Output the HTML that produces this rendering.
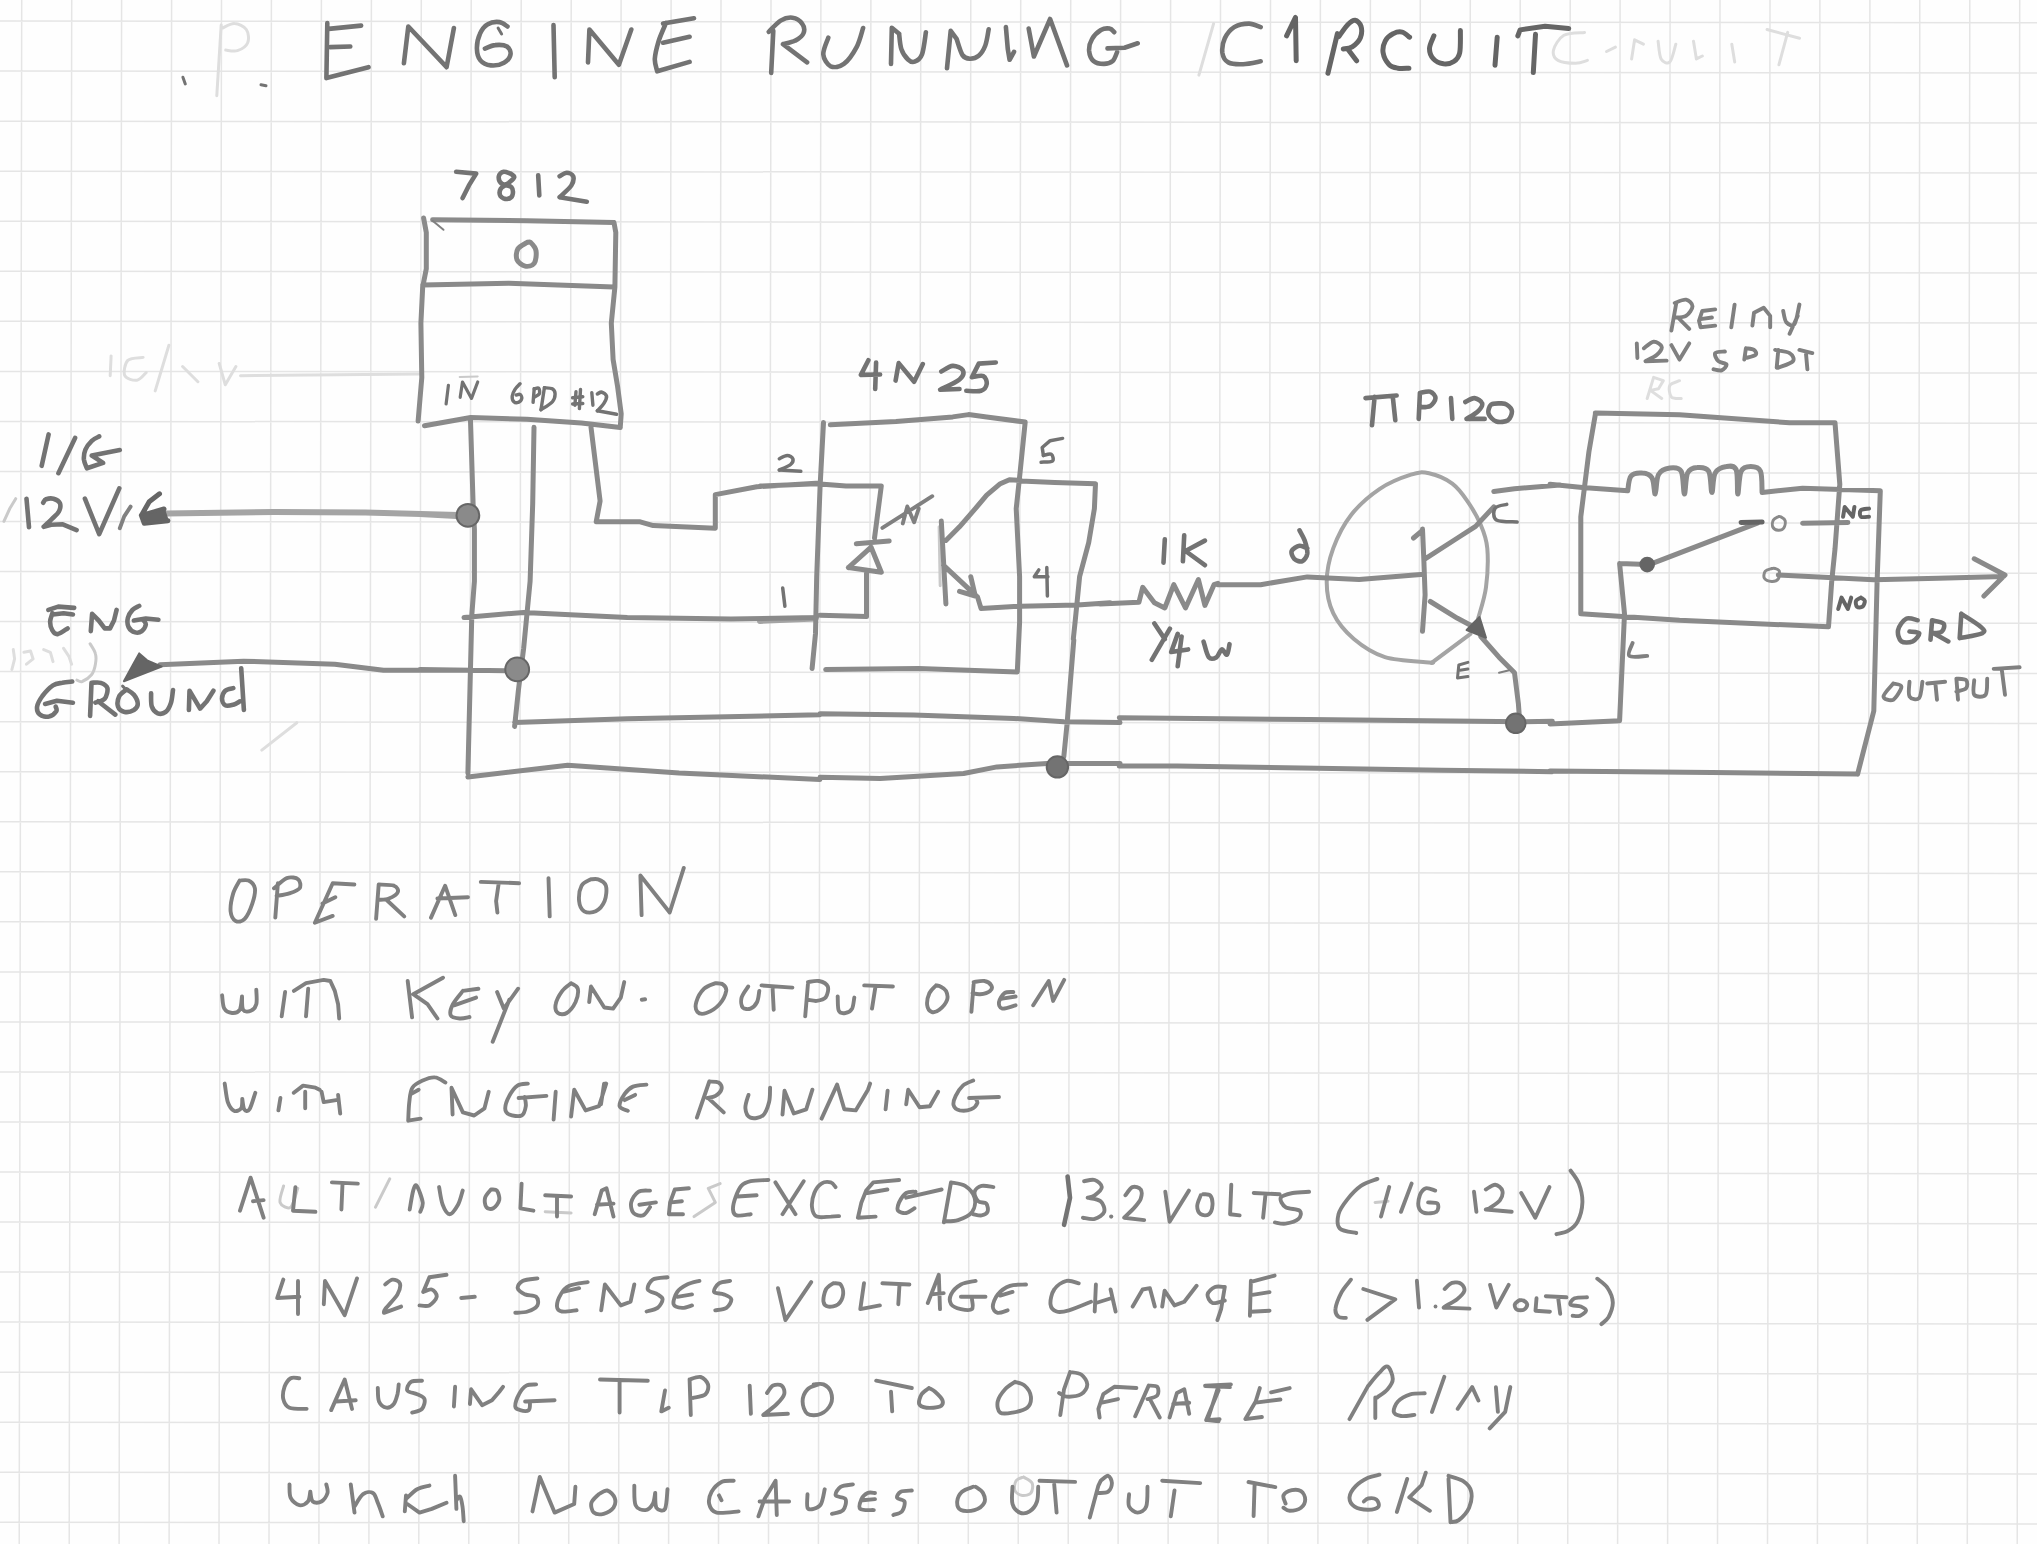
<!DOCTYPE html>
<html><head><meta charset="utf-8"><title>Engine Running Circuit</title>
<style>html,body{margin:0;padding:0;background:#fefefe;overflow:hidden;font-family:"Liberation Sans",sans-serif;}svg{display:block;}</style>
</head><body>
<svg width="2037" height="1544" viewBox="0 0 2037 1544">
<rect width="2037" height="1544" fill="#fefefe"/>
<path d="M21.7 0 L19.2 1544 M71.7 0 L69.2 1544 M121.6 0 L119.1 1544 M171.6 0 L169.1 1544 M221.5 0 L219 1544 M271.4 0 L269 1544 M321.4 0 L318.9 1544 M371.4 0 L368.9 1544 M421.3 0 L418.8 1544 M471.2 0 L468.8 1544 M521.2 0 L518.7 1544 M571.2 0 L568.7 1544 M621.1 0 L618.6 1544 M671.1 0 L668.6 1544 M721 0 L718.5 1544 M771 0 L768.5 1544 M820.9 0 L818.4 1544 M870.9 0 L868.4 1544 M920.8 0 L918.3 1544 M970.8 0 L968.3 1544 M1020.7 0 L1018.2 1544 M1070.7 0 L1068.2 1544 M1120.6 0 L1118.1 1544 M1170.6 0 L1168.1 1544 M1220.5 0 L1218 1544 M1270.5 0 L1268 1544 M1320.4 0 L1317.9 1544 M1370.4 0 L1367.9 1544 M1420.3 0 L1417.8 1544 M1470.3 0 L1467.8 1544 M1520.2 0 L1517.7 1544 M1570.2 0 L1567.7 1544 M1620.1 0 L1617.6 1544 M1670.1 0 L1667.6 1544 M1720 0 L1717.5 1544 M1770 0 L1767.5 1544 M1819.9 0 L1817.4 1544 M1869.9 0 L1867.4 1544 M1919.8 0 L1917.3 1544 M1969.8 0 L1967.3 1544 M2019.7 0 L2017.2 1544 M0 21.1 L2037 22.8 M0 71.1 L2037 72.9 M0 121.2 L2037 122.9 M0 171.2 L2037 173 M0 221.3 L2037 223 M0 271.3 L2037 273 M0 321.3 L2037 323.1 M0 371.4 L2037 373.1 M0 421.4 L2037 423.2 M0 471.5 L2037 473.2 M0 521.5 L2037 523.2 M0 571.5 L2037 573.3 M0 621.6 L2037 623.3 M0 671.6 L2037 673.4 M0 721.7 L2037 723.4 M0 771.7 L2037 773.4 M0 821.7 L2037 823.5 M0 871.8 L2037 873.5 M0 921.8 L2037 923.6 M0 971.9 L2037 973.6 M0 1021.9 L2037 1023.6 M0 1071.9 L2037 1073.7 M0 1122 L2037 1123.7 M0 1172 L2037 1173.8 M0 1222.1 L2037 1223.8 M0 1272.1 L2037 1273.8 M0 1322.1 L2037 1323.9 M0 1372.2 L2037 1373.9 M0 1422.2 L2037 1424 M0 1472.3 L2037 1474 M0 1522.3 L2037 1524" stroke="#e5e5e5" stroke-width="1.5" fill="none"/>
<g stroke="#dedede" stroke-width="3.0" fill="none" stroke-linecap="round" stroke-linejoin="round">
<path d="M221.2 25 L216.8 95.7 M222.7 28 C224.7 27.2 230.6 23.3 234.5 23.6 C238.4 23.8 244.1 26.3 246.3 29.5 C248.5 32.6 249.2 39.2 247.7 42.7 C246.3 46.2 241.1 49.4 237.4 50.7 C233.8 51.9 227.6 50.2 225.7 50.1 M1213.6 23.6 L1198.9 75.1 M13.3 649.6 L14.6 658.9 L11.9 669.5 M23.9 652.3 L30.5 651 L33.1 658.9 L26.5 664.2 M43.7 649.6 L50.4 652.3 L53 661.6 M63.6 648.3 L68.9 656.3 L71.6 664.2 M111.1 355.9 L110.2 375.7 M143.1 357.4 C140.5 357.9 130.9 357.4 127.8 360.4 C124.8 363.5 123.3 372.4 124.8 375.7 C126.3 379 133.4 380.7 137 380.2 C140.5 379.7 144.6 373.9 146.1 372.6 M168.9 345.2 L155.2 390.9 M182.6 366.5 L197.9 381.7 M219.2 363.5 L225.3 384.8 L235.9 366.5 M240.5 375.7 L420.1 374.1 M261.8 750.1 L296.8 722.7 M1647.2 398.5 L1653.6 377.4 L1663.3 380.7 L1658.5 388.8 L1650.4 390.4 L1661.7 398.5 M1679.5 380.7 C1677.9 381.5 1671.2 382.8 1669.8 385.5 C1668.5 388.2 1669.5 394.7 1671.4 396.9 C1673.3 399 1679.5 398.2 1681.2 398.5 M1584.5 32.4 C1581 32.9 1569 32.4 1563.9 35.3 C1558.7 38.3 1554.5 45.9 1553.5 50.1 C1552.6 54.2 1554.3 58.2 1558 60.4 C1561.6 62.6 1570.7 63.3 1575.6 63.3 C1580.5 63.3 1585.5 60.9 1587.4 60.4 M1606.6 51.5 L1615.4 47.1 M1631.6 58.9 L1634.6 39.8 L1643.4 44.2 M1658.1 41.2 C1658.6 44.2 1659.1 55.5 1661.1 58.9 C1663 62.3 1667.4 64.3 1669.9 61.9 C1672.4 59.4 1674.8 47.1 1675.8 44.2 M1693.5 41.2 L1696.4 58.9 L1702.3 56 M1731.8 44.2 L1734.7 61.9 M1767.1 29.5 L1799.5 38.3 M1787.7 32.4 L1778.9 64.8"/>
</g>
<g stroke="#cacaca" stroke-width="3.0" fill="none" stroke-linecap="round" stroke-linejoin="round">
<path d="M15.7 498.7 L9.8 508.5 L3.9 521.3 M90.1 643.7 C91 645.3 94.6 650.2 95.4 653.6 C96.3 657 96.1 660.7 95.4 664.2 C94.8 667.8 93.7 672 91.5 674.8 C89.2 677.7 84.6 680.6 82.2 681.5 C79.7 682.3 77.8 680.4 76.9 680.1 M939.1 526.8 L940.2 585.8 M283.6 1185.9 C283 1188.7 278.9 1198.9 280.1 1202.4 C281.3 1205.9 287.7 1209.5 290.7 1207.1 C293.6 1204.8 296.6 1191.4 297.8 1188.3 M375.5 1207.1 L389.7 1178.9 M545.2 1211.8 L571.1 1213 M694.1 1216.6 L715.3 1202.4 L708.3 1188.3 L720.1 1183.6 M1375.1 1202.4 L1388 1201.2 M1023.5 1477 C1022.3 1477.6 1017.6 1478.4 1016.1 1480.7 C1014.7 1482.9 1013.9 1488 1014.9 1490.5 C1015.9 1493 1019.6 1495 1022.3 1495.4 C1024.9 1495.8 1029.2 1495 1030.9 1493 C1032.5 1490.9 1033.3 1485.8 1032.1 1483.1 C1030.9 1480.5 1024.9 1478 1023.5 1477"/>
<path d="M459.7 376.9 L477.7 376.4" stroke-width="2"/>
</g>
<g stroke="#a4a4a4" stroke-width="6.0" fill="none" stroke-linecap="round" stroke-linejoin="round">
<path d="M165.9 513.6 L274 512 L365.3 512.6 L458.1 515.1 M420 514 L456.3 516.1 M760 620.9 L815.5 618.6"/>
<path d="M1431.6 662.4 C1431.2 662.4 1436.8 663.2 1429 662.4 C1421.2 661.5 1397.5 661.1 1385 657.2 C1372.5 653.3 1362.5 646.4 1353.9 639.1 C1345.3 631.7 1337.7 622.7 1333.2 613.2 C1328.6 603.7 1326.7 592.9 1326.7 582.1 C1326.7 571.3 1329.1 559.6 1333.2 548.4 C1337.3 537.2 1343.5 524.6 1351.3 514.7 C1359.1 504.8 1369.9 495.5 1379.8 488.8 C1389.7 482.1 1402.7 477.2 1410.9 474.6 C1419.1 472 1422.1 471.8 1429 473.3 C1435.9 474.8 1445.9 478.9 1452.3 483.6 C1458.8 488.4 1463.1 494.9 1467.9 501.8 C1472.6 508.7 1477.6 517.3 1480.8 525.1 C1484.1 532.8 1486.4 538 1487.3 548.4 C1488.2 558.8 1487.5 575.6 1486 587.3 C1484.5 598.9 1479.5 613.2 1478.2 618.3" stroke-width="4"/>
<path d="M1431.6 662.9 L1470.5 633.9" stroke-width="4"/>
</g>
<g stroke="#8a8a8a" stroke-width="5.0" fill="none" stroke-linecap="round" stroke-linejoin="round">
<path d="M159.8 664.8 L243.5 661.2 L334.8 664.2 L383.5 670.3 L456.6 670.3 M423.6 218 L426.3 232.5 L426.3 268.8 L422.7 286.9 L420.9 323.2 L421.8 377.6 L418.1 421.1 M432.6 219.8 L526.9 220.8 L614 222.6 M614 222.6 L615.8 232.5 L614.9 286.9 L611.3 323.2 L613.1 359.5 L617.6 386.7 L621.2 413.9 L620.3 426.6 M422.7 285.1 L508.8 283.3 L614 286.9 M424.5 425.7 L470.7 417.5 L526.9 419.3 L581.3 423 L620.3 427.5 M526.9 242.5 C525.4 243.6 519.5 246 517.9 248.9 C516.2 251.7 515.8 256.9 517 259.7 C518.2 262.6 522.3 265.5 525.1 266.1 C528 266.7 532.4 265.9 534.2 263.4 C536 260.8 536.6 254.1 536 250.7 C535.4 247.2 532.1 243.9 530.6 242.5 C529.1 241.2 527.5 242.5 526.9 242.5 M470.5 420.7 L473.1 503.6 L474.4 529.5 L474.4 581.3 L471.8 615 L467.9 773.1 M467.9 776.9 L567.7 765.3 L679.1 773.1 L820 779.5 M464 617.6 L523.6 612.4 L627.3 617.6 L730.9 618.9 L816.4 617.6 M534 427.2 L532.7 503.6 L530.1 581.3 L523.6 648.7 L518.4 690.2 L514.6 726.4 M518.4 690.2 L514.6 726.4 M514.6 722.5 L627.3 718.7 L820 714.8 M420 669.4 L505.5 670.7 M591 427.2 L600.1 501 L596.2 521.8 L640.2 521.8 L653.2 525.6 L715.3 528.2 L715.3 494.6 L756.8 486.8 L820 482.9 M823.5 422.5 L820.1 486 L816.7 576.7 L815.5 633.4 L812.1 668.5 M830.3 424.8 L896 421.4 L952.7 416.9 L968.5 414.6 L986.7 416.9 L1025.2 422.1 M1025.2 422.1 L1019.6 476.9 L1016.2 508.7 L1019.6 576.7 L1019.6 622 L1017.3 671.9 M825.7 669.6 L918.7 668.5 L1017.3 671.9 M760 486 L816.7 483.7 L846.1 486 L881.3 486 L874.5 538.1 M856.3 543.8 L889.2 540.9 M848.4 567.6 L871.1 547.2 L881.3 572.2 L848.4 567.6 M866.5 571 L866.5 616.4 L820.1 615.2 M941.3 521.1 L945.9 603.9 M945.9 540.4 L959.5 526.8 L975.3 508.7 L986.7 495.1 L1000.3 483.7 L1009.4 479.7 L1020.7 480.3 M1020.7 481 L1054.7 482.6 L1095.5 483.7 M943.6 565.3 L977.6 597.1 L981 608.4 M959.5 591.4 L975.3 596 L970.8 576.7 M981 608.4 L1020.7 606.2 L1077.4 605 L1110 602.8 M1095.5 483.7 L1094.4 508.7 L1088.7 542.7 L1079.6 576.7 L1075.1 622 L1073.3 639 M1100 604.1 L1138.9 602.3 L1142.7 587.3 L1154.4 602.8 L1164.8 608 L1173.8 584.7 L1185.5 608 L1198.4 579.5 L1204.9 605.4 L1214 584.7 L1217.9 583.4 M1217.9 584.7 L1260.6 584.7 L1307.3 576.9 L1359.1 579.5 L1423.8 574.3 M1422.5 529 L1423.8 558.8 L1425.1 595 L1422.5 631.3 M1413.5 538 L1422.5 530.3 M1425.1 558.8 L1457.5 538 L1475.6 526.4 L1493.8 506.9 M1493.8 491.4 L1514.5 488.8 L1560.1 484.9 M1430.3 601.5 L1457.5 618.3 L1479.5 630 M1480.8 636.5 L1499 657.2 L1514.5 672.7 L1518.4 703.8 L1519.7 722 M1595.3 413.1 L1679.5 414.7 L1789.6 422.8 L1835 422.8 M1595.3 414.7 L1588.9 451.9 L1580.8 516.7 L1580.8 613.8 M1580.8 613.8 L1679.5 620.3 L1828.5 626.8 M1835 422.8 L1839.8 484.3 L1835 549.1 L1831.7 581.5 L1828.5 626.8 M1550 484.3 L1582.4 487.5 L1627.7 490.8 M1627.7 490.8 C1628.3 488.3 1628.5 479.2 1631 476.2 C1633.4 473.2 1638.8 472.7 1642.3 473 C1645.8 473.2 1649.8 474.3 1652 477.8 C1654.2 481.3 1654.2 494.6 1655.2 494 C1656.3 493.5 1656.1 478.9 1658.5 474.6 C1660.9 470.3 1666 468.6 1669.8 468.1 C1673.6 467.6 1678.7 467 1681.2 471.3 C1683.6 475.7 1683.3 493.7 1684.4 494 C1685.5 494.3 1685.5 477.4 1687.6 473 C1689.8 468.5 1693.8 467.7 1697.3 467.5 C1700.9 467.2 1706.2 467.2 1708.7 471.3 C1711.1 475.5 1710.8 492.1 1711.9 492.4 C1713 492.7 1712.7 477.3 1715.2 473 C1717.6 468.6 1723 467 1726.5 466.5 C1730 465.9 1734.3 465.1 1736.2 469.7 C1738.1 474.3 1737 493.7 1737.8 494 C1738.6 494.3 1738.9 475.9 1741.1 471.3 C1743.2 466.8 1747.5 466.5 1750.8 466.5 C1754 466.5 1758.6 467 1760.5 471.3 C1762.4 475.7 1761.8 488.9 1762.1 492.4 M1762.1 492.4 L1802.6 488.2 L1880.3 490.8 M1880.3 490.8 L1877.1 581.5 L1873.8 711 L1857.6 774.1 M1857.6 774.1 L1711.9 772.5 L1550 770.9 M1802.6 523.2 L1847.9 522.5 M1647.2 565.3 L1757.3 523.2 M1778.3 575 L1873.8 579.8 L1938.6 578.2 L2003.4 576.6 M1974.2 558.8 L2005 575 L1983.9 596 M1619.6 563.6 L1647.2 564.6 M1619.6 563.6 L1624.5 613.8 L1619.6 720.7 M1619.6 720.7 L1550 723.9 M1119.3 717.8 L1309.3 719.5 L1521.4 721.7 L1552.3 721.3 M1119.3 765.9 L1176.7 765.9 L1441.8 770.3 L1552.3 771.7 M820.1 713.8 L913.5 715.1 L1013.7 718.4 L1063.8 721.8 L1120 722.6 M820.1 777.2 L880.1 778.5 L963.6 773.5 L997 766.9 L1047.1 763.5 L1120 763.5 M1073.8 640 L1070.4 681.7 L1067.1 723.5 L1063.8 756.8"/>
<path d="M1778.3 516.7 C1777.5 517.2 1774.4 518.2 1773.4 519.9 C1772.5 521.6 1772 525.3 1772.8 527 C1773.6 528.8 1776.5 530.1 1778.3 530.3 C1780.1 530.4 1782.7 529.6 1783.8 528 C1784.9 526.4 1785.6 522.5 1785.1 520.6 C1784.6 518.7 1781.7 517.3 1780.6 516.7 C1779.4 516 1778.7 516.7 1778.3 516.7" stroke-width="3"/>
<path d="M1771.8 568.5 C1770.7 568.9 1766.6 569.5 1765.3 571.1 C1764.1 572.7 1763.3 576.5 1764.4 578.2 C1765.5 579.9 1769.5 581.3 1771.8 581.5 C1774.1 581.6 1777.1 580.6 1778.3 578.9 C1779.5 577.1 1779.8 572.8 1779.3 571.1 C1778.7 569.4 1776.3 568.9 1775.1 568.5 C1773.8 568.1 1772.4 568.5 1771.8 568.5" stroke-width="3"/>
</g>
<g stroke="#808080" stroke-width="3.9" fill="none" stroke-linecap="round" stroke-linejoin="round">
<path d="M130.6 506.6 L124.2 516.4 L119.8 528.2 M882.4 527.9 L932.3 496.2 M902.8 523.4 L907.3 506.4 L914.1 522.3 L918.7 508.7 M1671.4 330.5 L1676.3 303 M1674.7 303 C1676.6 302.4 1683 299.2 1686 299.7 C1689 300.3 1692.5 303.5 1692.5 306.2 C1692.5 308.9 1689 314 1686 315.9 C1683 317.8 1676.6 317.3 1674.7 317.5 M1677.9 317.5 L1689.2 328.9 M1715.2 309.4 L1702.2 311 L1699 320.8 L1700.6 327.2 L1715.2 325.6 M1700.6 319.1 L1711.9 317.5 M1734.6 304.6 L1731.3 327.2 M1752.4 325.6 L1754 312.7 L1763.7 307.8 L1770.2 315.9 L1770.2 327.2 M1783.2 311 C1783.7 312.9 1784.5 320.2 1786.4 322.4 C1788.3 324.5 1792.3 327 1794.5 324 C1796.7 321 1798.5 307.8 1799.4 304.6 M1797.7 315.9 L1789.6 333.7 M1636.8 343.4 L1637.4 358 M1643.9 348.3 C1645.5 347.2 1650.7 342.1 1653.6 341.8 C1656.6 341.5 1661.2 344.5 1661.7 346.7 C1662.3 348.8 1659.6 352.3 1656.9 354.8 C1654.2 357.2 1647.4 360.2 1645.5 361.2 M1645.5 361.2 L1666.6 360.6 M1671.4 345.1 L1679.5 359.6 L1689.2 343.4 M1724.9 351.5 C1723.3 351.8 1716.2 351.5 1715.2 353.1 C1714.1 354.8 1716.5 359.4 1718.4 361.2 C1720.3 363.1 1725.9 363 1726.5 364.5 C1727 366 1723.8 369.5 1721.6 370.3 C1719.5 371.1 1714.9 369.5 1713.5 369.3 M1744.3 359.6 L1745.9 348.3 M1745.9 348.3 C1747.3 348.6 1752.4 348.8 1754 349.9 C1755.6 351 1757 353.4 1755.6 354.8 C1754.3 356.1 1747.5 357.5 1745.9 358 M1776.7 367.7 L1778.3 349.9 M1775.1 349.9 C1777.5 350.4 1786.7 351.3 1789.6 353.1 C1792.6 355 1794.8 358.8 1792.9 361.2 C1791 363.7 1780.7 366.6 1778.3 367.7 M1799.4 349.9 L1812.3 353.1 M1805.8 351.5 L1807.4 369.3 M1632.6 643 C1632 645.1 1626.9 653.8 1629.3 655.9 C1631.8 658.1 1644.2 655.9 1647.2 655.9 M1893.3 683.5 C1891.6 685.6 1883.5 693.7 1883.5 696.4 C1883.5 699.1 1890.3 701.3 1893.3 699.7 C1896.2 698 1901.4 689.4 1901.4 686.7 C1901.4 684 1894.6 684 1893.3 683.5 M1909.5 681.8 C1909.5 684.3 1907.8 693.7 1909.5 696.4 C1911.1 699.1 1917 700.5 1919.2 698 C1921.3 695.6 1921.9 684.5 1922.4 681.8 M1927.3 683.5 L1945.1 681.8 M1935.4 683.5 L1937 699.7 M1958 699.7 L1956.4 678.6 M1956.4 678.6 C1958 678.9 1964.5 678.6 1966.1 680.2 C1967.7 681.8 1967.7 686.4 1966.1 688.3 C1964.5 690.2 1958 691 1956.4 691.6 M1974.2 680.2 C1974.2 682.6 1972.3 692.4 1974.2 694.8 C1976.1 697.2 1983.4 697.5 1985.6 694.8 C1987.7 692.1 1986.9 681.3 1987.2 678.6 M1993.7 668.9 L2019.6 667.3 M2001.7 668.9 L2005 694.8 M239.6 880.6 C238.5 882.8 234.7 888.3 233.2 893.4 C231.7 898.5 230.2 906.7 230.6 911.3 C231.1 915.9 233.4 919.7 235.7 921 C238.1 922.2 241.9 921.8 244.7 918.9 C247.4 916 250.6 908.7 252.3 903.6 C254 898.5 255.5 892.1 254.9 888.3 C254.2 884.5 251.1 881.9 248.5 880.6 C245.9 879.4 241.1 880.6 239.6 880.6 M275.3 917.6 L277.9 883.2 M274 888.3 C276.2 886.6 282.8 879.6 286.8 878.1 C290.8 876.6 296.2 877.7 298.3 879.4 C300.4 881.1 301 886 299.6 888.3 C298.1 890.6 293.2 892.1 289.3 893.4 C285.5 894.7 278.7 895.5 276.6 895.9 M354.4 884.5 L332.7 883.2 L314.9 922.8 L332.7 915.9 M322.5 903.6 L335.3 897.2 M376.1 918.9 L378.7 884.5 M378.7 884.5 C381.2 884.7 390.8 884.5 394 885.7 C397.2 887 398.7 890 397.8 892.1 C397 894.2 392.1 897.2 388.9 898.5 C385.7 899.8 380.4 899.6 378.7 899.8 M386.4 899.8 L404.2 916.4 M431 917.6 L445.1 885.7 L455.3 915.1 M437.4 898.5 L468 897.2 M480.8 881.9 L519.1 883.2 M498.7 883.2 L496.1 901.1 L497.4 912.5 M548.5 878.1 L549.7 916.4 M590.6 879.4 C589.1 880.4 583.6 882.1 581.6 885.7 C579.7 889.4 578.7 896.8 579.1 901.1 C579.5 905.3 581.4 909.6 584.2 911.3 C587 913 592.3 913 595.7 911.3 C599.1 909.6 602.9 905.3 604.6 901.1 C606.3 896.8 607 889.4 605.9 885.7 C604.8 882.1 600.8 880.4 598.2 879.4 C595.7 878.3 591.9 879.4 590.6 879.4 M641.6 915.1 L640.4 875.5 L669.7 912.5 L683.8 867.9 M222.1 995.3 C222.5 997.6 222.6 1005.7 224.3 1008.6 C226 1011.5 229.5 1012.8 232 1013 C234.6 1013.2 238.1 1012.5 239.8 1009.7 C241.4 1006.9 241.6 998.7 242 996.5 M242 996.5 C242.2 998.7 241.6 1007.3 243.1 1009.7 C244.6 1012.1 248.6 1011.7 250.8 1010.8 C253 1009.9 255.4 1007.7 256.3 1004.2 C257.3 1000.7 256.3 992.2 256.3 989.8 M285.1 992 L281.7 1016.3 M293.9 990.9 L306 983.2 L323.7 979.9 L330.3 981 L334.8 990.9 L338.1 1004.2 L339.2 1018.5 M308.2 988.7 L306 1016.3 M407.7 981 L412.1 1017.4 M443 977.7 L413.2 994.2 L427.5 1004.2 L437.5 1018.5 M478.4 988.7 L462.9 990.9 M462.9 990.9 C461.2 993.1 455 1000.1 452.9 1004.2 C450.9 1008.2 449.6 1012.8 450.7 1015.2 C451.8 1017.6 456.4 1018.2 459.6 1018.5 C462.7 1018.8 467.9 1017.3 469.5 1017 M454.1 1005.3 L476.1 997.6 M497.1 992 L503.8 1008.6 L518.1 988.7 M509.3 999.8 L492.7 1041.7 M571.1 983.2 C569.7 984.5 564.9 987.4 562.3 990.9 C559.7 994.4 556.4 1000.5 555.7 1004.2 C554.9 1007.9 556 1011.5 557.9 1013 C559.7 1014.5 563.8 1014.9 566.7 1013 C569.7 1011.2 573.7 1006 575.6 1002 C577.4 997.9 578.5 991.8 577.8 988.7 C577 985.6 572.2 984.1 571.1 983.2 M589.2 1002 L591 986.5 L604.3 1007.5 L613.1 1008.6 L620.8 997.6 L624.2 982.1 M641.8 999.8 L645.1 999.3 M715.1 983.2 C713.3 984.1 707.2 985.6 704.1 988.7 C700.9 991.8 697.4 998.1 696.3 1002 C695.2 1005.8 695.8 1010.1 697.4 1011.9 C699.1 1013.8 702.6 1014.3 706.3 1013 C710 1011.7 716.2 1007.9 719.5 1004.2 C722.8 1000.5 725.6 994.2 726.2 990.9 C726.7 987.6 724.7 985.6 722.8 984.3 C721 983 716.4 983.4 715.1 983.2 M748.2 986.5 C747.1 988.4 742.5 994.1 741.6 997.6 C740.7 1001.1 741.3 1005.7 742.7 1007.5 C744.2 1009.3 748.1 1009.5 750.5 1008.6 C752.8 1007.7 755.6 1004.9 757.1 1002 C758.6 999 758.9 992.8 759.3 990.9 M761.5 985.4 L792.4 987.6 M772.5 986.5 L773.7 1009.7 M805.2 1016.3 L807.9 984.3 M807.9 982.1 C809.7 981.9 815.6 980.3 818.9 981 C822.3 981.7 826.7 983.7 827.8 986.5 C828.9 989.3 827.4 995.2 825.6 997.6 C823.7 999.9 819.7 1000.5 816.7 1000.9 C813.8 1001.2 809.4 999.9 807.9 999.8 M837.7 996.5 C837.9 998.8 837.5 1008 838.8 1010.8 C840.1 1013.6 843.2 1013.4 845.4 1013 C847.7 1012.7 850.6 1011.2 852.1 1008.6 C853.5 1006 853.9 999.4 854.3 997.6 M864.2 985.4 L892.9 986.5 M875.3 987.6 L872 1008.6 M936 985.4 C934.9 986.7 930.9 989.8 929.4 993.1 C927.9 996.5 926.8 1002.2 927.2 1005.3 C927.6 1008.4 929.6 1011.2 931.6 1011.9 C933.6 1012.7 936.8 1011.7 939.3 1009.7 C941.9 1007.7 946 1002.9 947.1 999.8 C948.2 996.6 947.1 993.1 946 990.9 C944.9 988.7 942.1 987.4 940.4 986.5 C938.8 985.6 936.8 985.6 936 985.4 M971.4 1011.9 L973.6 984.3 M973.6 982.1 C975.4 981.9 981.7 980.4 984.6 981 C987.6 981.5 990.3 983.7 991.3 985.4 C992.2 987.1 992 989.5 990.1 990.9 C988.3 992.4 983.2 993.9 980.2 994.2 C977.3 994.6 973.8 993.3 972.5 993.1 M1013.3 992 C1011.9 992.2 1006.9 991.5 1004.5 993.1 C1002.1 994.8 999.4 999.4 999 1002 C998.6 1004.6 999.5 1008 1002.3 1008.6 C1005.1 1009.2 1013.3 1005.8 1015.6 1005.3 M1002.3 998.7 L1015.6 996.5 M1033.2 1005.3 L1048.7 981 L1053.1 1000.9 L1064.2 979.9 M224.7 1083.6 C225.3 1086.6 226.3 1097.6 227.8 1102.1 C229.4 1106.6 231.8 1109.7 234 1110.8 C236.3 1111.8 239.9 1110.3 241.2 1108.3 C242.6 1106.3 242.1 1100.6 242.3 1099 M242.3 1099 C242.6 1100.7 243.1 1107.6 244.3 1109.3 C245.5 1111 247.7 1112.1 249.5 1109.3 C251.3 1106.6 254.3 1095.6 255.3 1092.8 M280.4 1098 L278.4 1110.4 M293.8 1092.8 L303.1 1085.6 L315.5 1087.7 L319.6 1089.7 M305.2 1091.8 L305.2 1108.3 M321.6 1091.8 L323.7 1102.1 L336.1 1100.1 M338.1 1094.9 L340.2 1113.5 M445.4 1082.5 C443.6 1081.7 438.8 1077.7 435.1 1077.4 C431.3 1077 426.5 1078.7 422.7 1080.5 C418.9 1082.2 414.6 1084.1 412.4 1087.7 C410.1 1091.3 410 1096.6 409.3 1102.1 C408.6 1107.6 408.4 1117.6 408.2 1120.7 M408.2 1120.7 L420.6 1118.6 M411.3 1093.9 L418.6 1089.7 M452.6 1114.5 L451.5 1087.7 L462.9 1112.4 L474.2 1115.5 L484.5 1108.3 L488.7 1091.8 M527.8 1083.6 C526.1 1083.9 520.6 1083.6 517.5 1085.6 C514.4 1087.7 511.3 1092.1 509.3 1095.9 C507.2 1099.7 505.2 1105.2 505.2 1108.3 C505.2 1111.4 506.5 1113.3 509.3 1114.5 C512 1115.7 518.9 1116.9 521.6 1115.5 C524.4 1114.1 525.3 1109.3 525.8 1106.2 C526.3 1103.1 524.9 1098.5 524.7 1097 M518.6 1098 L546.4 1095.9 M555.7 1091.8 L553.6 1119.6 M571.1 1116.5 L574.2 1089.7 L585.6 1110.4 L599 1106.2 L606.2 1083.6 M604.1 1083.6 L601 1104.2 M646.4 1084.6 C644.2 1084.9 636.6 1085.1 633 1086.6 C629.4 1088.2 627 1090.6 624.7 1093.9 C622.5 1097.1 619.1 1103.4 619.6 1106.2 C620.1 1109.1 626.5 1110 627.8 1110.8 M624.7 1100.1 L635.1 1094.9 M696.9 1117.6 L709.3 1081.5 M709.3 1081.5 C710.8 1081.7 716.5 1081.3 718.6 1082.5 C720.6 1083.7 722.2 1086.5 721.6 1088.7 C721.1 1090.9 717.9 1094.4 715.5 1095.9 C713.1 1097.5 708.6 1097.6 707.2 1098 M708.2 1098 L723.7 1112.4 M748.5 1094.9 C747.9 1097.1 745 1104.5 745.4 1108.3 C745.7 1112.1 747.6 1116.4 750.5 1117.6 C753.4 1118.8 759.8 1118.1 762.9 1115.5 C766 1112.9 767.9 1106.8 769.1 1102.1 C770.3 1097.5 769.9 1090.1 770.1 1087.7 M782.5 1114.5 L784.5 1090.8 L793.8 1113.5 L806.2 1109.3 L812.4 1089.7 M821.6 1118.6 L837.1 1084.6 L844.3 1109.3 L855.7 1110.4 L868 1089.7 L870.1 1083.6 M887.6 1090.8 L885.6 1109.3 M906.2 1104.2 L908.2 1089.7 L919.6 1107.3 L929.9 1106.2 L938.1 1091.8 M973.2 1080.5 C971.5 1081.3 965.8 1083 962.9 1085.6 C960 1088.2 957.2 1092.7 955.7 1095.9 C954.1 1099.2 952.9 1102.8 953.6 1105.2 C954.3 1107.6 956.9 1109.7 959.8 1110.4 C962.7 1111 968.2 1110.5 971.1 1109.3 C974.1 1108.1 976.6 1105 977.3 1103.1 C978 1101.3 975.6 1098.8 975.3 1098 M969.1 1098 L999 1097 M240 1210.7 L250.6 1177.7 L263.6 1217.7 M253 1201.2 L263.6 1200.1 M295.4 1187.1 L293 1210.7 L315.4 1211.8 M331.9 1182.4 L357.8 1183.6 M342.5 1183.6 L341.4 1209.5 M409.7 1209.5 C410.3 1206.3 412 1194.6 413.2 1190.6 C414.4 1186.7 415.2 1184 416.8 1185.9 C418.3 1187.9 422.1 1198.1 422.7 1202.4 C423.2 1206.7 420.7 1210.3 420.3 1211.8 M439.1 1187.1 C439.7 1190 440.9 1200.3 442.7 1204.8 C444.4 1209.3 447.2 1214.2 449.7 1214.2 C452.3 1214.2 455.8 1208.7 458 1204.8 C460.2 1200.8 461.9 1193 462.7 1190.6 M491 1189.5 C490 1190.8 485.9 1194.8 485.1 1197.7 C484.3 1200.6 484.9 1205.4 486.3 1207.1 C487.6 1208.9 491.2 1209.5 493.3 1208.3 C495.5 1207.1 498.6 1203 499.2 1200.1 C499.8 1197.1 498.3 1192.4 496.9 1190.6 C495.5 1188.9 492 1189.7 491 1189.5 M521.6 1183.6 L520.4 1208.3 L533.4 1210.7 M545.2 1195.3 L571.1 1196.5 M557 1196.5 L557 1216.6 M594.7 1214.2 L601.7 1190.6 L606.5 1188.3 L613.5 1216.6 M597 1204.8 L613.5 1203.6 M650 1190.6 C648.1 1190.8 641.4 1189.8 638.3 1191.8 C635.1 1193.8 632 1198.9 631.2 1202.4 C630.4 1205.9 631.6 1210.9 633.5 1213 C635.5 1215.2 640.2 1216.4 643 1215.4 C645.7 1214.4 648.9 1208.5 650 1207.1 M639.4 1204.8 L655.9 1202.4 M688.9 1188.3 L674.8 1189.5 L670.1 1202.4 L668.9 1214.2 L683 1214.2 M671.3 1202.4 L681.9 1201.2 M768.4 1180 C765.4 1180.2 755.2 1180.2 750.7 1181.2 C746.2 1182.2 743.8 1183.2 741.3 1185.9 C738.7 1188.7 736.8 1193.8 735.4 1197.7 C734 1201.6 732.8 1206.5 733 1209.5 C733.2 1212.4 733.6 1214.6 736.6 1215.4 C739.5 1216.2 748.3 1214.4 750.7 1214.2 M737.7 1196.5 L756.6 1195.3 M775.4 1182.4 L795.5 1214.2 M803.7 1181.2 L782.5 1214.2 M835.5 1187.1 C834.7 1186.3 833.2 1183 830.8 1182.4 C828.5 1181.8 824.1 1181.8 821.4 1183.6 C818.6 1185.3 815.9 1189.1 814.3 1193 C812.7 1196.9 811.6 1203.2 812 1207.1 C812.4 1211.1 813.5 1215 816.7 1216.6 C819.8 1218.1 827.1 1216.6 830.8 1216.6 C834.5 1216.5 837.7 1216.2 839.1 1216.1 M899.1 1180 L873.2 1182.4 L866.2 1190.6 L861.4 1202.4 L857.9 1217.7 L875.6 1216.6 M867.3 1193 L887.4 1189.5 M915.6 1191.8 C914.1 1192 909 1191.2 906.2 1193 C903.5 1194.8 900.5 1199.5 899.1 1202.4 C897.8 1205.4 896.8 1208.9 898 1210.7 C899.1 1212.4 903.5 1213.4 906.2 1213 C909 1212.6 913.1 1209.1 914.5 1208.3 M906.2 1197.7 L941.6 1189.5 M943.9 1222.4 L951 1182.4 M951 1182.4 C953.3 1183 961.2 1183.4 965.1 1185.9 C969.1 1188.5 973.4 1193.4 974.6 1197.7 C975.7 1202 974.9 1208.1 972.2 1211.8 C969.4 1215.6 962.8 1218.5 958.1 1220.1 C953.3 1221.7 946.3 1221.1 943.9 1221.3 M993.4 1187.1 C991.4 1186.9 984.8 1185.1 981.6 1185.9 C978.5 1186.7 975.1 1189.3 974.6 1191.8 C974 1194.4 976.1 1199.3 978.1 1201.2 C980 1203.2 984.8 1201.8 986.3 1203.6 C987.9 1205.4 988.3 1209.9 987.5 1211.8 C986.7 1213.8 984 1215 981.6 1215.4 C979.3 1215.8 974.7 1214.4 973.4 1214.2 M1084.1 1181.2 C1085.9 1181 1091.8 1179 1094.7 1180 C1097.7 1181 1101.8 1184.5 1101.8 1187.1 C1101.8 1189.7 1097.1 1193.6 1094.7 1195.3 C1092.4 1197.1 1088.8 1197.3 1087.7 1197.7 M1087.7 1197.7 C1089.8 1198.3 1097.9 1198.9 1100.6 1201.2 C1103.4 1203.6 1105.1 1208.9 1104.2 1211.8 C1103.2 1214.8 1098.3 1217.9 1094.7 1218.9 C1091.2 1219.9 1084.9 1217.9 1082.9 1217.7 M1125.4 1195.3 C1126.5 1194 1129.9 1188.1 1132.4 1187.1 C1135 1186.1 1139.3 1187.5 1140.7 1189.5 C1142.1 1191.4 1141.7 1195.9 1140.7 1198.9 C1139.7 1201.8 1137.5 1204 1134.8 1207.1 C1132 1210.3 1125.9 1216 1124.2 1217.7 M1124.2 1217.7 L1144.2 1220.1 M1165.3 1191.8 L1169.6 1221.7 L1188.9 1190.6 M1200.7 1195.3 C1200.1 1197.1 1197.2 1202.8 1197.2 1205.9 C1197.2 1209.1 1198.7 1212.8 1200.7 1214.2 C1202.7 1215.6 1207 1215.8 1208.9 1214.2 C1210.9 1212.6 1212.3 1207.9 1212.5 1204.8 C1212.7 1201.6 1211.7 1197.1 1210.1 1195.3 C1208.5 1193.6 1204.2 1194.4 1203 1194.2 M1231.3 1184.7 L1230.1 1214.2 L1239.6 1215.4 M1253.7 1193 L1279.6 1194.2 M1265.5 1194.2 L1263.1 1217.7 M1309.1 1191.8 C1306.3 1192 1297.3 1192 1292.6 1193 C1287.9 1194 1282 1195.3 1280.8 1197.7 C1279.6 1200.1 1282.4 1205 1285.5 1207.1 C1288.7 1209.3 1297.5 1208.7 1299.7 1210.7 C1301.8 1212.6 1300.8 1216.8 1298.5 1218.9 C1296.1 1221.1 1289.5 1223 1285.5 1223.6 C1281.6 1224.2 1276.7 1222.6 1274.9 1222.4 M1377.4 1178.9 C1374.7 1180 1366 1182.4 1360.9 1185.9 C1355.8 1189.5 1350.5 1195.3 1346.8 1200.1 C1343.1 1204.8 1339.7 1209.5 1338.5 1214.2 C1337.4 1218.9 1336.8 1225.2 1339.7 1228.3 C1342.7 1231.5 1353.5 1232.3 1356.2 1233 M1389.2 1187.1 L1381 1216.6 M1411.6 1183.6 L1401 1211.8 M1435.2 1190.6 C1433.6 1190.2 1428.3 1187.5 1425.7 1188.3 C1423.2 1189.1 1421 1192.2 1419.8 1195.3 C1418.7 1198.5 1417.9 1204.2 1418.7 1207.1 C1419.4 1210.1 1421.6 1212.2 1424.6 1213 C1427.5 1213.8 1434.2 1213.4 1436.3 1211.8 C1438.5 1210.3 1438.9 1205.2 1437.5 1203.6 C1436.1 1202 1429.7 1202.6 1428.1 1202.4 M1474 1191.8 L1476.4 1211.8 M1485.8 1189.5 C1487.4 1188.7 1492.5 1184.5 1495.2 1184.7 C1498 1184.9 1501.5 1188.1 1502.3 1190.6 C1503.1 1193.2 1502.1 1197.1 1500 1200.1 C1497.8 1203 1491.7 1206.7 1489.4 1208.3 C1487 1209.9 1486.4 1209.3 1485.8 1209.5 M1485.8 1209.5 L1511.7 1211.8 M1521.2 1193 L1535.3 1217.7 L1549.4 1187.1 M1570.6 1170.6 C1572 1172.8 1576.9 1178.3 1578.9 1183.6 C1580.9 1188.9 1582.6 1196.1 1582.4 1202.4 C1582.2 1208.7 1580.1 1216.6 1577.7 1221.3 C1575.4 1226 1571.8 1228.5 1568.3 1230.7 C1564.8 1232.9 1558.5 1233.6 1556.5 1234.2 M283.3 1279.6 L277.2 1298 L299.3 1296.8 M298 1280.9 L298 1314 M323.8 1304.2 L325 1280.9 L344.7 1315.2 L357 1278.4 M385.2 1284.5 C386.4 1283.7 390.1 1279.8 392.5 1279.6 C395 1279.4 399.1 1280.9 399.9 1283.3 C400.7 1285.8 399.9 1290.1 397.5 1294.4 C395 1298.7 387.4 1306 385.2 1309.1 C382.9 1312.2 384.2 1312.2 384 1312.8 M384 1312.8 L401.1 1306.6 M446.5 1274.7 L429.4 1277.2 L423.2 1291.9 M423.2 1291.9 C424.7 1291.5 429.6 1288.6 431.8 1289.5 C434.1 1290.3 437.1 1294.2 436.7 1296.8 C436.3 1299.5 432.2 1304 429.4 1305.4 C426.5 1306.8 421.2 1305.4 419.5 1305.4 M461.3 1298 L474.8 1296.8 M537.4 1278.4 C534.9 1278.8 525.9 1279.2 522.6 1280.9 C519.4 1282.5 517.3 1286 517.7 1288.2 C518.1 1290.5 522 1292.9 525.1 1294.4 C528.2 1295.8 534.1 1295 536.1 1296.8 C538.2 1298.7 538.8 1303 537.4 1305.4 C535.9 1307.9 531.2 1310.3 527.6 1311.5 C523.9 1312.8 517.3 1312.6 515.3 1312.8 M587.7 1282.1 C584.6 1282.7 573.8 1283.7 569.3 1285.8 C564.8 1287.8 562.7 1290.9 560.7 1294.4 C558.6 1297.8 556.8 1303.8 557 1306.6 C557.2 1309.5 558.6 1310.9 561.9 1311.5 C565.2 1312.2 574.2 1310.5 576.6 1310.3 M563.1 1291.9 L579.1 1288.2 M601.2 1310.3 L604.9 1284.5 L620.8 1305.4 L630.6 1301.7 L634.3 1284.5 M667.5 1277.2 C665 1277.6 656 1277.6 652.7 1279.6 C649.5 1281.7 647 1287 647.8 1289.5 C648.6 1291.9 655.2 1292.7 657.6 1294.4 C660.1 1296 662.6 1297 662.6 1299.3 C662.6 1301.5 660.3 1305.8 657.6 1307.9 C655 1309.9 648.4 1310.9 646.6 1311.5 M699.4 1280.9 C697.3 1281.5 690.8 1282.7 687.1 1284.5 C683.4 1286.4 679.5 1288.6 677.3 1291.9 C675 1295.2 672.8 1301.5 673.6 1304.2 C674.4 1306.8 679.1 1307.7 682.2 1307.9 C685.3 1308.1 690.4 1305.8 692 1305.4 M677.3 1296.8 L692 1294.4 M730.1 1280.9 C728.2 1281.3 721.7 1281.5 719 1283.3 C716.3 1285.2 713.3 1290.1 714.1 1291.9 C714.9 1293.8 721.1 1293.1 723.9 1294.4 C726.8 1295.6 730.9 1297 731.3 1299.3 C731.7 1301.5 729 1306 726.4 1307.9 C723.7 1309.7 717.2 1309.9 715.3 1310.3 M778 1288.2 L785.4 1320.1 L811.2 1282.1 M833.3 1283.3 C832 1284.3 827.5 1286.4 825.9 1289.5 C824.3 1292.5 823 1298.9 823.5 1301.7 C823.9 1304.6 825.9 1306.2 828.4 1306.6 C830.8 1307 835.7 1306.2 838.2 1304.2 C840.6 1302.1 842.7 1297.6 843.1 1294.4 C843.5 1291.1 842.3 1286.4 840.6 1284.5 C839 1282.7 834.5 1283.5 833.3 1283.3 M864 1283.3 L860.3 1309.1 L879.9 1305.4 M882.4 1283.3 L909.4 1284.5 M899.5 1284.5 L898.3 1304.2 M927.8 1303 L938.8 1274.7 L940 1309.1 M931.5 1294.4 L943.7 1293.1 M975.6 1280.9 C973.2 1281.5 965 1282.3 960.9 1284.5 C956.8 1286.8 952.7 1291.1 951.1 1294.4 C949.5 1297.6 949.5 1301.7 951.1 1304.2 C952.7 1306.6 957.4 1308.3 960.9 1309.1 C964.4 1309.9 970.1 1310.7 972 1309.1 C973.8 1307.5 972 1300.9 972 1299.3 M960.9 1296.8 L985.5 1296.8 M1026 1284.5 C1023.3 1284.8 1014.7 1284.1 1010 1285.8 C1005.3 1287.4 1000.6 1290.9 997.7 1294.4 C994.9 1297.8 992.8 1303.6 992.8 1306.6 C992.8 1309.7 995.3 1312.2 997.7 1312.8 C1000.2 1313.4 1005.9 1310.7 1007.6 1310.3 M1000.2 1295.6 L1012.5 1291.9 M1078.7 1283.3 C1076.7 1282.9 1070.6 1279.8 1066.5 1280.9 C1062.4 1281.9 1056.8 1285.6 1054.2 1289.5 C1051.5 1293.3 1050.1 1300.5 1050.5 1304.2 C1050.9 1307.9 1053.6 1310.5 1056.6 1311.5 C1059.7 1312.6 1063.2 1312 1068.9 1310.3 C1074.6 1308.7 1087.3 1303.2 1091 1301.7 M1095.9 1284.5 L1094.7 1311.5 M1095.9 1303 L1111.9 1298 M1110.6 1289.5 L1115.6 1311.5 M1132.7 1306.6 L1142.6 1289.5 L1149.9 1288.2 L1154.8 1306.6 M1162.2 1306.6 L1164.6 1290.7 L1174.5 1305.4 L1184.3 1301.7 L1196.6 1285.8 M1224.8 1287 C1223.1 1287 1217.8 1285.8 1215 1287 C1212.1 1288.2 1208 1291.7 1207.6 1294.4 C1207.2 1297 1209.6 1301.9 1212.5 1303 C1215.4 1304 1222.7 1300.9 1224.8 1300.5 M1224.8 1287 L1221.1 1309.1 L1217.4 1320.1 M1274.6 1275.6 L1250.9 1281.8 M1250.9 1280.8 L1249.9 1315.8 M1250.9 1295.2 L1269.5 1292.1 M1250.9 1311.7 L1269.5 1310.7 M1350.9 1279.7 C1349.4 1281.8 1344.2 1287.3 1341.6 1292.1 C1339.1 1296.9 1336 1304.5 1335.5 1308.6 C1334.9 1312.7 1336.8 1315.3 1338.6 1316.9 C1340.3 1318.4 1344.6 1317.7 1345.8 1317.9 M1363.3 1289 L1395.3 1299.3 L1367.4 1319.9 M1416.9 1280.8 L1419 1307.6 M1444.7 1289 C1445.9 1288 1449.2 1283.7 1452 1282.8 C1454.7 1282 1459.2 1282.5 1461.2 1283.9 C1463.3 1285.2 1465 1288.5 1464.3 1291.1 C1463.6 1293.7 1460 1296.9 1457.1 1299.3 C1454.2 1301.7 1449 1304.1 1446.8 1305.5 C1444.6 1306.9 1444.2 1307.2 1443.7 1307.6 M1443.7 1307.6 L1469.5 1308.6 M1490.1 1284.9 L1496.3 1307.6 L1508.7 1284.9 M1519 1300.4 C1518.3 1301 1515.2 1302.9 1514.8 1304.5 C1514.5 1306 1515.4 1308.8 1516.9 1309.6 C1518.5 1310.5 1522.4 1310.5 1524.1 1309.6 C1525.8 1308.8 1527.4 1306 1527.2 1304.5 C1527 1302.9 1524.5 1301 1523.1 1300.4 C1521.7 1299.7 1519.7 1300.4 1519 1300.4 M1536.5 1298.3 L1535.5 1310.7 L1549.9 1311.7 M1545.8 1296.2 L1566.4 1297.3 M1558.1 1297.3 L1560.2 1313.8 M1587 1297.3 C1584.9 1297.4 1577.4 1297.1 1574.6 1298.3 C1571.9 1299.5 1569.5 1303.1 1570.5 1304.5 C1571.5 1305.9 1578.2 1305.5 1580.8 1306.5 C1583.4 1307.6 1586.2 1309.1 1586 1310.7 C1585.8 1312.2 1582 1315 1579.8 1315.8 C1577.6 1316.7 1573.8 1315.8 1572.6 1315.8 M1597.3 1278.7 C1599 1280.3 1605.1 1284 1607.6 1288 C1610.2 1291.9 1612.6 1297.6 1612.8 1302.4 C1613 1307.2 1610.5 1313.2 1608.7 1316.9 C1606.8 1320.5 1602.6 1322.9 1601.4 1324.1 M299.3 1378.2 C297.8 1378.2 293.1 1376.8 290.7 1378.2 C288.2 1379.7 285.8 1383.3 284.5 1386.8 C283.3 1390.3 282.5 1395.6 283.3 1399.1 C284.1 1402.6 285.6 1406 289.5 1407.7 C293.3 1409.3 303.8 1408.7 306.6 1408.9 M331.2 1410.1 L344.7 1379.5 L352 1408.9 M336.1 1401.5 L355.7 1400.3 M377.8 1388 C378 1390.3 377.6 1398.3 379 1401.5 C380.5 1404.8 384 1407.3 386.4 1407.7 C388.9 1408.1 391.9 1406.3 393.8 1404 C395.6 1401.8 396.6 1397.5 397.5 1394.2 C398.3 1390.9 398.5 1386 398.7 1384.4 M422 1380.7 C420.2 1380.9 413.4 1380.3 411 1381.9 C408.5 1383.5 406.3 1388.5 407.3 1390.5 C408.3 1392.5 414.2 1392.8 417.1 1394.2 C420 1395.6 423.6 1396.6 424.5 1399.1 C425.3 1401.5 424 1406.7 422 1408.9 C420 1411.2 413.8 1412 412.2 1412.6 M455.1 1386.8 L453.9 1406.5 M469.9 1404 L471.1 1389.3 L482.1 1405.2 L492 1400.3 L499.3 1391.7 L503 1386.8 M536.1 1384.4 C534.5 1384.6 529.2 1384 526.3 1385.6 C523.5 1387.2 520.8 1390.7 519 1394.2 C517.1 1397.7 515.1 1403.8 515.3 1406.5 C515.5 1409.1 517.9 1409.5 520.2 1410.1 C522.4 1410.8 527.1 1411.4 528.8 1410.1 C530.4 1408.9 529.8 1404 530 1402.8 M525.1 1401.5 L554.6 1400.3 M600 1379.5 L647.8 1380.7 M619.6 1380.7 L619.6 1412.6 M665 1390.5 L661.3 1411.4 L668.7 1407.7 M690.8 1415 L689.6 1379.5 M689.6 1379.5 C691.4 1379 697.5 1376.2 700.6 1377 C703.7 1377.8 707.1 1381.5 708 1384.4 C708.8 1387.2 708 1391.9 705.5 1394.2 C703.1 1396.4 695.3 1397.3 693.2 1397.9 M749.7 1385.6 L750.9 1413.8 M767 1393 C768 1391.7 770.7 1386.8 773.1 1385.6 C775.6 1384.4 779.9 1384.2 781.7 1385.6 C783.6 1387 785 1391.1 784.2 1394.2 C783.4 1397.3 780.3 1400.5 776.8 1404 C773.3 1407.5 765.6 1413.2 763.3 1415 M763.3 1415 L787.9 1413.8 M818.5 1384.4 C816.7 1385.2 810.2 1386.4 807.5 1389.3 C804.8 1392.1 802.6 1397.5 802.6 1401.5 C802.6 1405.6 804.4 1411.8 807.5 1413.8 C810.6 1415.9 817.1 1415.5 821 1413.8 C824.9 1412.2 829.2 1407.7 830.8 1404 C832.5 1400.3 832 1395 830.8 1391.7 C829.6 1388.5 826.3 1385.6 823.5 1384.4 C820.6 1383.1 815.3 1384.4 813.6 1384.4 M876.2 1380.7 L911.8 1388 M891 1391.7 L892.2 1411.4 M929 1388 C927.8 1389.1 923.3 1391.5 921.6 1394.2 C920 1396.8 918.4 1401.8 919.2 1404 C920 1406.3 923.1 1407.3 926.5 1407.7 C930 1408.1 937.4 1407.7 940 1406.5 C942.7 1405.2 943.3 1402.8 942.5 1400.3 C941.7 1397.9 937.4 1393.8 935.1 1391.7 C932.9 1389.7 930 1388.7 929 1388 M1014.9 1381.9 C1013.3 1383.1 1008 1386 1005.1 1389.3 C1002.2 1392.5 998.6 1397.7 997.7 1401.5 C996.9 1405.4 997.7 1410.8 1000.2 1412.6 C1002.6 1414.4 1008 1413.4 1012.5 1412.6 C1017 1411.8 1024.1 1410.3 1027.2 1407.7 C1030.3 1405 1031.3 1400.3 1030.9 1396.6 C1030.5 1393 1027.4 1388 1024.7 1385.6 C1022.1 1383.1 1016.6 1382.5 1014.9 1381.9 M1060.3 1415 L1064 1389.3 L1070.1 1372.1 M1070.1 1372.1 C1072 1372.5 1078.3 1372.5 1081.2 1374.5 C1084.1 1376.6 1087.3 1381.1 1087.3 1384.4 C1087.3 1387.6 1084.7 1392.1 1081.2 1394.2 C1077.7 1396.2 1070.1 1396.8 1066.5 1396.6 C1062.8 1396.4 1060.3 1393.6 1059.1 1393 M1136.4 1388 L1114.3 1386.8 L1103.3 1394.2 L1098.4 1408.9 L1099.6 1417.5 M1100.8 1402.8 L1118 1399.1 M1135.2 1416.3 L1148.7 1385.6 M1148.7 1385.6 C1150.1 1385.8 1155.8 1385.2 1157.3 1386.8 C1158.7 1388.5 1158.9 1393.4 1157.3 1395.4 C1155.6 1397.5 1149.1 1398.5 1147.5 1399.1 M1149.9 1399.1 L1159.7 1417.5 M1169.6 1417.5 L1176.9 1393 L1184.3 1389.3 L1189.2 1413.8 M1173.2 1404 L1189.2 1402.8 M1205.1 1385.6 L1230.9 1384.4 M1218.6 1385.6 L1207.6 1420 L1218.6 1421.2 M1205.2 1386.1 L1229.9 1387.1 M1218.6 1390.2 L1206.2 1420.1 L1219.6 1419.1 M1259.8 1388.1 L1255.7 1401.5 L1245.4 1419.1 L1261.9 1417 M1271.1 1392.3 L1289.7 1388.1 M1255.7 1402.6 L1280.4 1399.5 M1349.5 1419.1 L1368 1386.1 M1368 1386.1 C1369.9 1383.8 1376.1 1375.9 1379.4 1372.7 C1382.6 1369.4 1385.4 1365.5 1387.6 1366.5 C1389.9 1367.5 1392.8 1375.1 1392.8 1378.9 C1392.8 1382.6 1390.2 1386.1 1387.6 1389.2 C1385.1 1392.3 1379 1396 1377.3 1397.4 M1375.3 1397.4 L1375.3 1418 M1424.7 1393.3 C1422.3 1393.5 1414.8 1393 1410.3 1394.3 C1405.8 1395.7 1400.7 1398.6 1397.9 1401.5 C1395.2 1404.5 1393.3 1409.5 1393.8 1411.9 C1394.3 1414.3 1397.6 1415.5 1401 1416 C1404.5 1416.5 1412.2 1415.1 1414.4 1414.9 M1444.3 1376.8 L1432 1411.9 M1457.7 1408.8 L1472.2 1387.1 L1478.4 1400.5 M1495.9 1387.1 L1497.9 1411.9 M1510.3 1387.1 L1505.2 1411.9 L1489.7 1428.4 M289.5 1484.4 C289.7 1486.6 289 1494.4 290.7 1497.9 C292.3 1501.3 296.4 1504.6 299.3 1505.2 C302.1 1505.8 306 1503.8 307.9 1501.5 C309.7 1499.3 309.9 1493.4 310.3 1491.7 M310.3 1491.7 C310.7 1493.4 310.9 1499.9 312.8 1501.5 C314.6 1503.2 318.9 1503 321.4 1501.5 C323.8 1500.1 326.7 1495.8 327.5 1493 C328.3 1490.1 326.5 1485.8 326.3 1484.4 M350.8 1484.4 L354.5 1512.6 M354.5 1506.5 C355.9 1504.4 360 1496.4 363.1 1494.2 C366.2 1491.9 370.5 1491.5 372.9 1493 C375.4 1494.4 376.2 1498.9 377.8 1502.8 C379.5 1506.7 381.9 1514 382.7 1516.3 M404.8 1511.4 L406 1495.4 M406 1499.1 C407.9 1497.5 413.2 1491.5 417.1 1489.3 C421 1487 427.3 1486.2 429.4 1485.6 M407.3 1504 L419.5 1512.6 L431.8 1508.9 L446.5 1502.8 M455.1 1475.8 L456.4 1508.9 M456.4 1500.3 C457 1499.7 459 1495.6 460 1496.6 C461.1 1497.7 461.9 1502.4 462.5 1506.5 C463.1 1510.5 463.5 1518.7 463.7 1521.2 M532.5 1511.4 L539.8 1477 L554.6 1512.6 L574.2 1504 L575.4 1486.8 M598.7 1494.2 C597.5 1495.6 592.2 1499.7 591.4 1502.8 C590.6 1505.8 591.8 1510.8 593.8 1512.6 C595.9 1514.4 600.4 1514.6 603.6 1513.8 C606.9 1513 611.6 1510.3 613.5 1507.7 C615.3 1505 615.7 1500.7 614.7 1497.9 C613.7 1495 610 1491.1 607.3 1490.5 C604.7 1489.9 600.2 1493.6 598.7 1494.2 M634.3 1485.6 C634.5 1488.9 633.7 1501.1 635.6 1505.2 C637.4 1509.3 642.5 1510.3 645.4 1510.1 C648.2 1509.9 651.1 1506.9 652.7 1504 C654.4 1501.1 654.8 1494.8 655.2 1493 M655.2 1493 C655.4 1495.4 654.8 1505 656.4 1507.7 C658.1 1510.3 663.2 1512 665 1508.9 C666.8 1505.8 667.1 1492.5 667.5 1489.3 M733.7 1480.7 C731.7 1480.9 725.1 1480.1 721.5 1481.9 C717.8 1483.8 713.7 1488 711.6 1491.7 C709.6 1495.4 708.4 1500.5 709.2 1504 C710 1507.5 711.6 1511.4 716.6 1512.6 C721.5 1513.8 735 1511.6 738.6 1511.4 M721.5 1500.3 L719 1495.4 M758.4 1516.3 L764.5 1499.1 L775.6 1480.7 L776.8 1515 M759.6 1501.5 L789.1 1501.5 M807.5 1494.2 C807.5 1496.4 806.5 1505.2 807.5 1507.7 C808.5 1510.1 811.4 1509.5 813.6 1508.9 C815.9 1508.3 819.2 1507.3 821 1504 C822.8 1500.7 824.1 1491.7 824.7 1489.3 M852.9 1484.4 C850.9 1484.8 843.5 1485 840.6 1486.8 C837.8 1488.7 834.9 1493.4 835.7 1495.4 C836.5 1497.5 844.3 1496.6 845.5 1499.1 C846.8 1501.5 845.3 1507.7 843.1 1510.1 C840.8 1512.6 833.9 1513.2 832 1513.8 M875 1493 C873.8 1493 869.9 1491.9 867.6 1493 C865.4 1494 862.7 1496.4 861.5 1499.1 C860.3 1501.8 858.2 1507.1 860.3 1508.9 C862.3 1510.8 871.5 1509.9 873.8 1510.1 M862.7 1500.3 L875 1499.1 M911.8 1490.5 C910 1490.7 903.2 1490.5 900.8 1491.7 C898.3 1493 896.5 1496.2 897.1 1497.9 C897.7 1499.5 903.6 1499.3 904.5 1501.5 C905.3 1503.8 903.8 1509.1 902 1511.4 C900.2 1513.6 894.8 1514.4 893.4 1515 M973.2 1486.8 C971.3 1487.6 964.8 1489.3 962.1 1491.7 C959.5 1494.2 957.4 1498.5 957.2 1501.5 C957 1504.6 958 1508.7 960.9 1510.1 C963.8 1511.6 970.5 1511.4 974.4 1510.1 C978.3 1508.9 982.8 1505.6 984.2 1502.8 C985.7 1499.9 984.4 1495.6 983 1493 C981.6 1490.3 976.9 1487.8 975.6 1486.8 M1012.5 1486.8 C1012.5 1489.7 1011.2 1499.7 1012.5 1504 C1013.7 1508.3 1017 1511.4 1019.8 1512.6 C1022.7 1513.8 1026.8 1513.2 1029.6 1511.4 C1032.5 1509.5 1035.6 1505.6 1037 1501.5 C1038.4 1497.5 1038 1489.3 1038.2 1486.8 M1039.5 1480.7 L1075.1 1481.9 M1054.2 1484.4 L1056.6 1512.6 M1089.8 1517.5 L1098.4 1485.6 L1100.8 1480.7 M1100.8 1480.7 C1102.1 1479.9 1106.3 1475.4 1108.2 1475.8 C1110 1476.2 1111.9 1480.5 1111.9 1483.1 C1111.9 1485.8 1110.4 1490.1 1108.2 1491.7 C1105.9 1493.4 1100 1492.8 1098.4 1493 M1129.1 1494.2 C1129.1 1496.2 1127.6 1503.4 1129.1 1506.5 C1130.5 1509.5 1134.8 1512.6 1137.6 1512.6 C1140.5 1512.6 1144.6 1510.8 1146.2 1506.5 C1147.9 1502.2 1147.3 1490.1 1147.5 1486.8 M1162.2 1480.7 L1200.2 1483.1 M1174.5 1490.5 L1170.8 1516.3 M1248.5 1482 L1275.3 1487.1 M1254.6 1484 L1253.6 1516 M1285.6 1503.6 C1285.2 1502.2 1282.5 1497.6 1283.5 1495.4 C1284.5 1493.1 1288.8 1490.9 1291.8 1490.2 C1294.7 1489.5 1298.8 1489.7 1301 1491.2 C1303.3 1492.8 1305.2 1496.7 1305.2 1499.5 C1305.2 1502.2 1303.6 1505.8 1301 1507.7 C1298.5 1509.6 1292.6 1510.8 1289.7 1510.8 C1286.8 1510.8 1284.5 1508.2 1283.5 1507.7 M1379.4 1474.7 C1377.5 1475.3 1372 1475.9 1368 1477.8 C1364.1 1479.7 1358.8 1482.8 1355.7 1486.1 C1352.6 1489.3 1349.7 1494 1349.5 1497.4 C1349.3 1500.9 1351.5 1504.6 1354.6 1506.7 C1357.7 1508.8 1364.1 1509.8 1368 1509.8 C1372 1509.8 1377 1508.4 1378.4 1506.7 C1379.7 1505 1378 1500.9 1376.3 1499.5 C1374.6 1498.1 1370.1 1498.1 1368 1498.5 C1366 1498.8 1364.6 1501 1363.9 1501.5 M1396.9 1511.9 L1407.2 1478.9 M1425.8 1472.7 L1421.6 1485.1 L1409.3 1497.4 M1409.3 1497.4 L1429.9 1510.8 M1448.5 1478.9 L1450.5 1522.2 M1448.5 1475.8 C1450.9 1476.6 1459.1 1478.4 1462.9 1480.9 C1466.7 1483.5 1470.1 1486.8 1471.1 1491.2 C1472.2 1495.7 1471.1 1502.9 1469.1 1507.7 C1467 1512.5 1461.9 1517.7 1458.8 1520.1 C1455.7 1522.5 1451.9 1521.8 1450.5 1522.2"/>
<path d="M432.6 220.8 L443.5 229.8" stroke-width="2"/>
<path d="M1499 672.7 L1509.3 670.2" stroke-width="2"/>
</g>
<g stroke="#737373" stroke-width="4.6" fill="none" stroke-linecap="round" stroke-linejoin="round">
<path d="M361.1 25.6 L328.7 28.9 M327.3 23 L326.4 78.1 L368.5 67.2 M330.2 47.1 L350.3 46.5 M403.9 63.3 L408.3 26.5 L446.6 67.2 L453.9 28 M507.5 26.5 C506.2 25.8 502.9 22.5 499.6 22.1 C496.3 21.7 491.1 22.2 487.8 24.2 C484.5 26.1 481.7 29.8 479.9 33.9 C478 37.9 476.8 44.2 476.9 48.6 C477 53 478.1 57.6 480.4 60.4 C482.7 63.2 486.8 65 490.8 65.4 C494.7 65.8 500.7 64.6 504 62.7 C507.3 60.9 510 57.2 510.5 54.5 C511 51.8 509.5 48.1 507 46.5 C504.4 45 498.9 44.7 495.2 45.1 C491.5 45.4 486.6 48 484.9 48.6 M553.5 25 L554.7 77.2 M588 62.4 L589.4 29.5 L618.9 64.8 L631.3 29.5 M694 18.3 L663.1 23.6 M666 23 C664.8 26 660.5 35.2 658.6 41.2 C656.8 47.2 655.1 53.9 654.8 58.9 C654.6 63.9 656.8 69.2 657.2 71.3 M663.1 42.7 L689.6 36.8 M657.2 71.3 L689.6 61.9 M771.2 73 L773.3 30.9 M768.8 31.8 C770.8 29.9 776.7 23 780.6 20.6 C784.5 18.3 788.8 17.2 792.4 17.7 C796 18.2 800.3 21 802.1 23.6 C804 26.1 804.7 30.1 803.6 33 C802.5 35.8 798.8 38.8 795.3 40.6 C791.9 42.5 785 43.6 783 44.2 M783 44.2 L807.1 62.4 M828.3 37.7 C827.5 40.5 822.9 49.7 823.3 54.5 C823.7 59.3 827.3 64.7 830.7 66.3 C834.1 67.8 839.6 67.1 843.9 63.9 C848.3 60.7 853.4 53.1 856.6 47.1 C859.8 41.1 862 31.2 863.1 28 M1260.7 27.1 C1258.8 26.5 1253.4 23.6 1249 23.6 C1244.5 23.6 1238.3 24.6 1234.2 27.1 C1230.2 29.6 1226.8 34 1224.8 38.3 C1222.8 42.6 1221.9 49 1222.4 53 C1223 57 1224.9 60.6 1228.3 62.4 C1231.8 64.3 1237.7 64.4 1243.1 64.2 C1248.5 64 1257.8 61.8 1260.7 61.3 M891 63.9 L891.8 27.8 L899.1 33.7 M899.1 33.7 C899.5 36.3 899.9 44.9 901.4 49.2 C902.8 53.5 905.8 57.4 908 59.5 C910.2 61.6 912.3 62.6 914.6 61.7 C916.9 60.8 920.1 59.2 922 54.3 C923.9 49.4 925.3 35.9 925.9 32.2 M947 68.3 L950.7 30.8 L956.6 38.9 M956.6 38.9 C957.6 41.6 960.3 51.8 962.5 55.1 C964.7 58.4 967.1 58.6 969.8 58.8 C972.5 58.9 976.1 58 978.7 55.8 C981.3 53.6 983.6 49.9 985.3 45.5 C987 41.1 988.1 32 988.7 29.3 M1005.9 27.1 L1007.8 49.2 L1009.6 59.8 L1014 51.8 M1028.7 28.6 L1033.9 56.5 L1050.1 19 L1067 65.4 M1114.2 32.2 C1113.4 31.6 1112 28.9 1109.7 28.6 C1107.5 28.2 1103.9 28.3 1100.9 30 C1098 31.8 1094 35.4 1092.1 38.9 C1090.1 42.3 1088.9 47 1089.1 50.7 C1089.4 54.3 1091.1 58.8 1093.5 61 C1096 63.2 1100.7 63.9 1103.9 63.9 C1107 63.9 1110.5 62.9 1112.7 61 C1114.9 59 1116.4 53.6 1117.1 52.1 M1107.5 48.4 L1124.5 47.7 L1137.7 43.3 M48.6 434.4 L41.7 465.8 M75.1 437.9 L58.4 473.2 M99.2 436.4 C97.9 437.1 94.1 438.6 91.8 440.8 C89.5 443 86.7 446.5 85.4 449.6 C84.1 452.7 83.7 456.3 83.9 459.5 C84.2 462.6 86.4 466.8 86.9 468.3 M86.9 468.3 L103.1 462.9 L91.8 455.5 L119.8 450.1 M26.5 498.7 L29 527.2 M43.2 502.7 C43.7 502.1 44.4 499.9 46.1 499.2 C47.9 498.6 51.2 498.1 53.5 498.7 C55.8 499.4 59 501 59.9 503.1 C60.8 505.3 60.2 508.9 58.9 511.5 C57.6 514.1 54.6 516.3 52 518.9 C49.5 521.4 45.1 525.4 43.7 526.7 M43.7 526.7 L51.1 524.7 L62.8 524.3 L76.6 530.1 M84.9 498.7 L99.2 534.1 L119.3 488.4 M48.4 609.9 L58.3 606.6 L74.2 607.9 M52.4 613.2 C52 614.6 50.1 618.9 50.1 621.8 C50.1 624.7 51.1 628.4 52.4 630.4 C53.6 632.5 55.1 634.5 57.7 634.1 C60.2 633.8 65.9 629.4 67.6 628.4 M53 614.5 L63.6 613.2 L72.9 614.5 M90.8 631.1 L92.1 613.9 L98.7 620.5 L104.7 628.4 L110 628.4 L114 620.5 L116.6 609.9 M139.2 605.9 C138.1 606.6 134.4 607.9 132.5 609.9 C130.7 611.9 128.6 615 127.9 617.8 C127.2 620.7 127.4 624.7 128.6 627.1 C129.8 629.5 133 631.8 135.2 632.4 C137.4 633.1 140.1 632.4 141.8 631.1 C143.6 629.8 145.6 626.3 145.8 624.5 C146 622.6 143.6 620.6 143.2 619.8 M133.9 620.5 L145.8 618.5 L158.4 619.8 M72.2 681.5 C70.6 681.7 65.5 682.1 62.3 682.8 C59.1 683.4 56.3 683.2 53 685.4 C49.7 687.6 45.1 692.5 42.4 696 C39.8 699.6 37.6 703.5 37.1 706.6 C36.7 709.7 37.8 712.9 39.8 714.6 C41.8 716.3 46.3 717.1 49 716.6 C51.8 716 55.2 712.9 56.3 711.3 C57.4 709.6 55.8 707.4 55.7 706.6 M45.1 704 L57 700.7 L72.9 702.7 M90.1 715.9 L91.5 682.8 M91.5 682.8 C93 682.8 98.1 681.9 100.7 682.8 C103.4 683.7 106.7 685.4 107.4 688.1 C108 690.7 106.7 696.3 104.7 698.7 C102.7 701.1 97 702 95.4 702.7 M98.1 701.3 L115.3 714.6 M126.6 689.4 C127.8 690.3 132 692.3 133.9 694.7 C135.8 697.1 137.8 701.5 137.8 704 C137.8 706.5 136.1 708.6 133.9 710 C131.7 711.3 127.2 712.5 124.6 711.9 C121.9 711.4 118.9 709.3 118 706.6 C117.1 704 117.9 698.9 119.3 696 C120.7 693.2 125.4 690.5 126.6 689.4 M151.1 693.4 C151.2 695.6 150.7 703.3 151.8 706.6 C152.9 710 155.4 712.4 157.7 713.3 C160.1 714.2 163.5 713.7 165.7 711.9 C167.9 710.2 169.8 706.3 171 702.7 C172.2 699 172.6 692.2 173 690.1 M188.9 710 L189.5 690.7 L200.1 708.6 L206.8 701.3 L213.4 690.7 M233.3 688.1 C232 688.5 227.2 689 225.3 690.7 C223.5 692.5 222 696.3 222 698.7 C222 701.1 223.5 704.3 225.3 705.3 C227.2 706.3 230.9 705.3 233.3 704.7 C235.7 704 238.8 701.9 239.9 701.3 M241.2 668.2 L243.9 710 M456.2 171.8 L476.2 173.6 L468.9 185.4 L462.6 198.1 M510.6 173.6 C509.4 173.3 505.3 171.3 503.4 171.8 C501.4 172.2 499.1 174.4 498.8 176.3 C498.5 178.3 499.4 181.8 501.6 183.6 C503.7 185.4 509.7 185.2 511.5 187.2 C513.3 189.2 513.2 193.4 512.4 195.4 C511.7 197.3 509 198.8 507 199 C505 199.1 501.7 197.9 500.6 196.3 C499.6 194.6 499.3 191.3 500.6 189 C502 186.7 506.5 184.6 508.8 182.7 C511.1 180.7 513.9 178.7 514.2 177.2 C514.6 175.7 511.2 174.2 510.6 173.6 M538.2 175.4 L539.3 195.4 M559.6 176.3 C560.8 175.7 564.6 172.7 566.8 172.7 C569.1 172.7 572.4 174.2 573.2 176.3 C573.9 178.4 573.6 181.9 571.4 185.4 C569.1 188.9 561.6 195.2 559.6 197.2 M559.6 197.2 L586.8 201.7 M868.4 360.2 L860.9 374.9 L880.1 374.5 M876.1 362.5 L875.2 389 M895.6 380.6 L898.7 363.1 L914.1 381.7 L922.8 364.1 M941.3 371.5 C943.2 370.6 949.1 366.1 952.7 365.9 C956.3 365.7 961.7 368.1 962.9 370.4 C964 372.7 963.3 376.3 959.5 379.5 C955.7 382.7 943.4 388 940.2 389.7 M940.2 389.7 L959.5 389 M995.8 362.5 L978.8 363.6 L971.9 377.2 M971.9 377.2 C973.8 377 980.8 374.9 983.3 376.1 C985.7 377.2 987.1 381.5 986.7 384 C986.3 386.5 984.4 389.7 981 390.8 C977.6 391.9 968.7 390.8 966.3 390.8 M1365.5 398.1 L1396.6 395.5 M1374.6 396.8 L1372 425.3 M1392.7 396.1 L1395.3 420.2 M1418.7 418.9 L1419.9 393 M1419.9 393 C1421.7 392.7 1427.7 390.8 1430.3 391.7 C1432.9 392.5 1435.5 395.8 1435.5 398.1 C1435.5 400.5 1432.9 404.4 1430.3 405.9 C1427.7 407.4 1421.7 407 1419.9 407.2 M1451 398.1 L1452.3 418.9 M1465.3 402 C1466.8 401.4 1471.5 397.9 1474.4 398.1 C1477.2 398.4 1481.5 401.2 1482.1 403.3 C1482.8 405.5 1480.8 408.5 1478.2 411.1 C1475.6 413.7 1468.5 417.6 1466.6 418.9 M1466.6 418.9 L1484.7 418.9 M1500.3 403.3 C1498.7 403.5 1493.1 402.9 1491.2 404.6 C1489.2 406.3 1487.7 410.9 1488.6 413.7 C1489.5 416.5 1493.1 420.4 1496.4 421.5 C1499.6 422.5 1505.4 421.9 1508 420.2 C1510.6 418.4 1512.1 413.7 1511.9 411.1 C1511.7 408.5 1508.7 405.9 1506.7 404.6 C1504.8 403.3 1501.3 403.5 1500.3 403.3 M1164.8 539.3 L1163.5 562.6 M1184.2 535.4 L1182.9 561.3 M1204.9 540.6 L1185.5 551 L1204.9 565.2 M1154.4 623.5 L1164.8 639.1 M1169.9 628.7 L1151.8 659.8 M1177.7 633.9 L1171.2 652 L1188.1 649.4 M1181.6 636.5 L1177.7 666.3 M1203.6 641.7 C1204.5 644.2 1206.6 654.6 1208.8 657.2 C1211 659.8 1214.4 658.5 1216.6 657.2 C1218.7 655.9 1220 649.9 1221.8 649.4 C1223.5 649 1225.6 655.5 1226.9 654.6 C1228.2 653.7 1229.1 646 1229.5 644.2 M1299.5 530.3 C1300.3 532 1303.4 536.7 1304.7 540.6 C1306 544.5 1307.7 550.1 1307.3 553.6 C1306.8 557 1304.2 560.5 1302.1 561.3 C1299.9 562.2 1296 560.5 1294.3 558.8 C1292.6 557 1290.8 553.1 1291.7 551 C1292.6 548.8 1296.9 546.2 1299.5 545.8 C1302.1 545.4 1306 548 1307.3 548.4 M1917.6 620.3 C1915.7 620 1909.5 617.1 1906.2 618.7 C1903 620.3 1898.9 626.2 1898.1 630 C1897.3 633.8 1898.9 639.5 1901.4 641.4 C1903.8 643.2 1909.7 642.7 1912.7 641.4 C1915.7 640 1919.7 634.9 1919.2 633.3 C1918.6 631.6 1911.1 631.9 1909.5 631.6 M1930.5 639.7 L1932.1 620.3 M1932.1 620.3 C1934 620.9 1941.8 621.7 1943.5 623.5 C1945.1 625.4 1943.7 630 1941.8 631.6 C1940 633.3 1933.7 633 1932.1 633.3 M1933.7 633.3 L1948.3 641.4 M1959.7 638.1 L1961.3 613.8 M1961.3 613.8 C1964.5 616 1977.2 623.5 1980.7 626.8 C1984.2 630 1985.8 631.4 1982.3 633.3 C1978.8 635.2 1963.4 637.3 1959.7 638.1 M1067.6 1176.5 L1070 1197.7 L1064.1 1224.8"/>
<path d="M182.9 77.2 L185.3 83.9" stroke-width="3"/>
<path d="M261 84.8 L266 85.7" stroke-width="3"/>
<path d="M498.1 28 L501.6 33.9" stroke-width="3"/>
<path d="M122.6 686.1 L127.2 690.7" stroke-width="3"/>
<path d="M779.3 458.8 C780.6 458.2 784.9 455.4 787.2 455.4 C789.5 455.4 792.3 457.3 792.9 458.8 C793.4 460.3 792.9 462.6 790.6 464.5 C788.3 466.4 781.2 469.2 779.3 470.1" stroke-width="3.5"/>
<path d="M779.3 470.1 L800.8 471.3" stroke-width="3.5"/>
<path d="M782.7 588 L784.9 606.2" stroke-width="3.5"/>
<path d="M1062.6 438.4 L1050.2 440.7 L1042.2 447.5 L1043.4 455.4" stroke-width="3.5"/>
<path d="M1043.4 455.4 C1044.7 455.2 1049.8 453.3 1051.3 454.3 C1052.8 455.2 1054.1 459.8 1052.4 461.1 C1050.7 462.4 1043 462 1041.1 462.2" stroke-width="3.5"/>
<path d="M1038.8 569.9 L1034.3 576.7 L1047.9 576.7" stroke-width="3.5"/>
<path d="M1046.8 567.6 L1047.4 596" stroke-width="3.5"/>
<path d="M1506.7 504.4 C1504.8 505 1496.8 505.6 1495.1 508.2 C1493.4 510.8 1492.7 517.6 1496.4 519.9 C1500 522.2 1513.6 521.6 1517.1 522" stroke-width="3.5"/>
<path d="M1467.9 662.4 L1458.8 665 L1457.5 677.9 L1467.9 676.6" stroke-width="3"/>
<path d="M1460.1 670.2 L1467.9 668.9" stroke-width="3"/>
<path d="M448.4 385.4 L446.1 404" stroke-width="3.2"/>
<path d="M460.2 397.3 L462.5 382 L471.5 398.4 L477.7 382" stroke-width="3.2"/>
<path d="M520.1 383.7 C519.2 384.7 516.3 387.3 515 389.4 C513.7 391.4 512.4 394.1 512.2 396.1 C512 398.2 512.8 400.7 513.9 401.8 C514.9 402.8 517.1 402.9 518.4 402.3 C519.7 401.8 521.5 399.7 521.8 398.4 C522.1 397.1 521 395 520.1 394.4 C519.1 393.9 516.8 394.9 516.1 395" stroke-width="3.4"/>
<path d="M533.1 402.3 L534.2 388.8" stroke-width="3.4"/>
<path d="M534.2 388.8 C535 388.7 537.9 387.4 538.7 388.2 C539.6 389.1 540 392.4 539.3 393.9 C538.5 395.4 535 396.7 534.2 397.3" stroke-width="3.4"/>
<path d="M544.4 387.7 L541 409.7" stroke-width="3.4"/>
<path d="M544.4 387.7 C545.7 387.9 550.5 387.8 552.3 388.8 C554.1 389.8 555.1 391.7 555.1 393.9 C555.1 396 554.6 399.1 552.3 401.8 C549.9 404.4 542.9 408.4 541 409.7" stroke-width="3.4"/>
<path d="M576 391.6 L574.9 405.2" stroke-width="3.4"/>
<path d="M580.5 389.4 L579.4 408.6" stroke-width="3.4"/>
<path d="M572.6 397.8 L582.8 396.7" stroke-width="3.4"/>
<path d="M572.6 404 L582.8 403.5" stroke-width="3.4"/>
<path d="M591.8 392.7 L592.9 405.2" stroke-width="3.4"/>
<path d="M597.4 393.9 C598.2 393.6 600.4 391.8 601.9 392.2 C603.5 392.6 606.1 394.3 606.5 396.1 C606.8 397.9 605.7 400.5 604.2 402.9 C602.7 405.4 598.6 409.5 597.4 410.8" stroke-width="3.6"/>
<path d="M597.4 410.8 L616.6 414.2" stroke-width="3.6"/>
</g>
<g stroke="#656565" stroke-width="5.0" fill="none" stroke-linecap="round" stroke-linejoin="round">
<path d="M159.5 493.8 L149.2 501.7 L141.4 515.4 M141.4 515.4 L144.3 523.3 L167.9 520.8 M145.3 514.4 L164 509 M1286.6 35.8 L1295.5 17.4 L1296.2 60.8 M1327.9 73.3 L1337.4 33.6 M1338.9 36.5 C1340.4 34.5 1345 27.4 1347.7 24.7 C1350.4 22 1352.9 20.1 1355.1 20.3 C1357.3 20.6 1360.1 23.3 1361 26.2 C1361.9 29.1 1361.7 34.5 1360.3 38 C1358.8 41.4 1355 45 1352.2 46.8 C1349.3 48.7 1344.8 48.7 1343.3 49 M1347.7 49 L1356.6 60.8 M1409.6 37.2 C1408.4 36.4 1404.9 32.7 1402.2 32.1 C1399.5 31.5 1396.2 32.1 1393.4 33.6 C1390.6 35 1387 37.7 1385.3 40.9 C1383.6 44.1 1382.5 48.8 1383.1 52.7 C1383.7 56.6 1386.5 61.9 1389 64.5 C1391.4 67.1 1394.5 67.6 1397.8 68.2 C1401.1 68.8 1407 68.2 1408.9 68.2 M1433.9 35.8 C1433.2 37.9 1429.6 44.5 1429.5 48.3 C1429.4 52.1 1430.8 56 1433.2 58.6 C1435.5 61.2 1440 63.3 1443.5 63.8 C1446.9 64.2 1451.1 63.4 1453.8 61.5 C1456.5 59.7 1458.6 57.9 1459.7 52.7 C1460.8 47.6 1460.3 34.3 1460.4 30.6 M1497.2 37.2 L1495 65.2 M1517.8 35.8 L1520.1 29.9 L1545.1 26.2 L1568.7 28.4 M1535.5 34.3 L1533.3 72.6"/>
<path d="M1741.1 522.5 L1762.1 521.9" stroke-width="5"/>
<path d="M1843.1 516.7 L1844.7 507 L1852.8 516.7 L1854.4 507" stroke-width="4"/>
<path d="M1869 508.6 C1867.6 508.9 1862.2 508.9 1860.9 510.2 C1859.5 511.6 1859.5 515.6 1860.9 516.7 C1862.2 517.8 1867.6 516.7 1869 516.7" stroke-width="4"/>
<path d="M1838.2 609 L1841.5 597.6 L1847.9 609 L1851.2 597.6" stroke-width="4"/>
<path d="M1860.9 597.6 C1860.1 598.2 1856.7 599.4 1856 600.9 C1855.4 602.4 1855.9 605.7 1857 606.7 C1858.1 607.7 1861.2 607.7 1862.5 606.7 C1863.8 605.7 1865 602.4 1864.8 600.9 C1864.5 599.4 1861.5 598.2 1860.9 597.6" stroke-width="4"/>
</g>
<path d="M141.4 515.4 L164 509 L167.9 520.8 L144.3 523.3 Z" fill="#656565" stroke="#656565" stroke-width="2" stroke-linejoin="round"/>
<path d="M123.9 681.2 L133.2 664.2 L139.2 653.4 L147.1 660.3 L161.7 666.6 Z" fill="#656565" stroke="#656565" stroke-width="2" stroke-linejoin="round"/>
<path d="M1466.6 630 L1479.5 617 L1486 637.8 Z" fill="#656565" stroke="#656565" stroke-width="2" stroke-linejoin="round"/>
<circle cx="467.9" cy="515.3" r="11.4" fill="#8a8a8a" stroke="#666" stroke-width="2"/>
<circle cx="517.2" cy="669.4" r="11.9" fill="#8a8a8a" stroke="#666" stroke-width="2"/>
<circle cx="1515.8" cy="723.3" r="9.8" fill="#737373" stroke="#666" stroke-width="2"/>
<circle cx="1647.2" cy="564.6" r="6.8" fill="#656565" stroke="#666" stroke-width="2"/>
<circle cx="1057.4" cy="766.9" r="10.7" fill="#737373" stroke="#666" stroke-width="2"/>
<circle cx="1111.2" cy="1216.6" r="2.1" fill="#808080" stroke="#666" stroke-width="0"/>
<circle cx="1435.5" cy="1306.5" r="1.9" fill="#808080" stroke="#666" stroke-width="0"/>
</svg>
</body></html>
